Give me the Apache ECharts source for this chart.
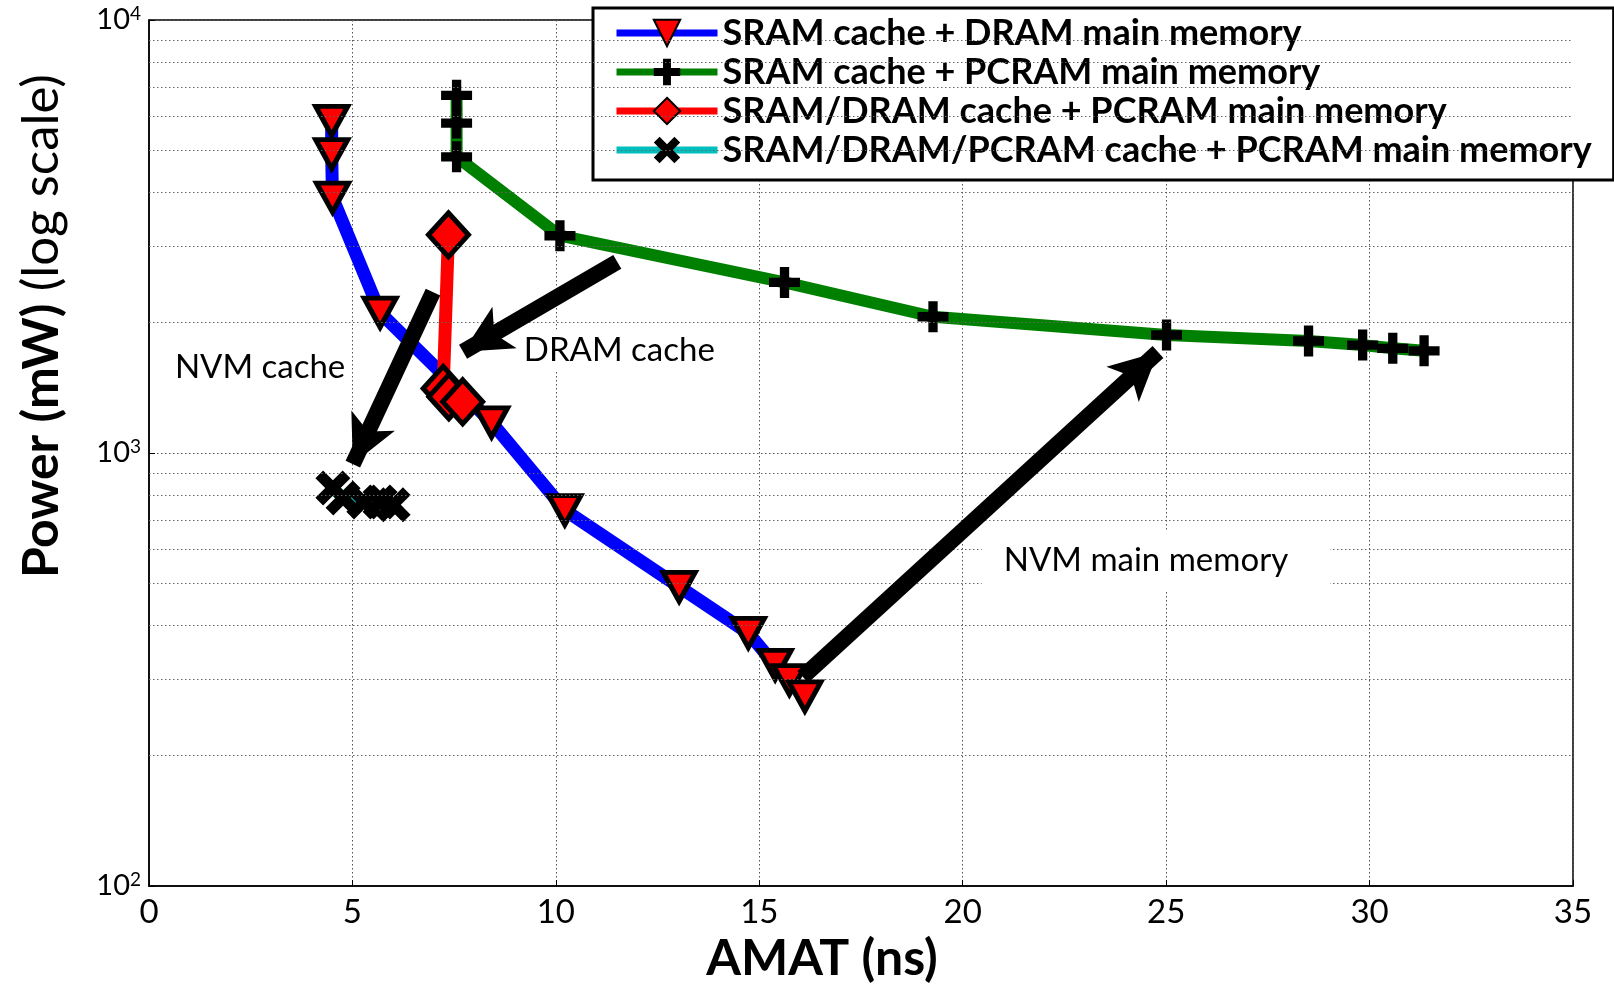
<!DOCTYPE html>
<html><head><meta charset="utf-8">
<script src="https://cdn.jsdelivr.net/npm/echarts@6/dist/echarts.min.js"></script>
<style>html,body{margin:0;padding:0;background:#fff}#c{width:1614px;height:1000px}</style>
</head><body><div id="c"></div>
<script>
// ---- data ----
const seriesNames = [
  'SRAM cache + DRAM main memory',
  'SRAM cache + PCRAM main memory',
  'SRAM/DRAM cache + PCRAM main memory',
  'SRAM/DRAM/PCRAM cache + PCRAM main memory'
];
const sramDramX = [4.49, 4.49, 4.51, 5.68, 8.42, 10.22, 13.03, 14.73, 15.39, 15.74, 16.12];
const sramDramY = [5850, 4900, 3890, 2110, 1177, 738, 491, 384, 324, 299, 274];
const sramPcramX = [7.56, 7.56, 7.56, 10.10, 15.62, 19.27, 25.01, 28.50, 29.83, 30.57, 31.34];
const sramPcramY = [6700, 5780, 4830, 3175, 2477, 2064, 1873, 1814, 1775, 1745, 1722];
const hybridX = [7.36, 7.23, 7.37, 7.71];
const hybridY = [3190, 1410, 1349, 1313];
const nvmCacheX = [4.52, 4.77, 5.28, 5.68, 6.0];
const nvmCacheY = [830, 787, 771, 771, 759];

const xTicks = [0, 5, 10, 15, 20, 25, 30, 35];
const yTickExponents = [2, 3, 4];
const yMinorGrid = [200, 300, 400, 500, 600, 700, 800, 900, 2000, 3000, 4000, 5000, 6000, 7000, 8000, 9000];

// annotations (data-space anchors)
const arrowFrom = [[6.98, 2353], [11.51, 2764], [16.07, 304]];
const arrowTo = [[5.01, 943], [7.72, 1713], [24.8, 1711]];
const noteTexts = ['NVM cache', 'DRAM cache', 'NVM main memory'];
const notePos = [[2.73, 1579], [11.56, 1729], [24.75, 564]];

// ---- chart ----
const zip = (xs, ys) => xs.map((x, i) => [x, ys[i]]);
const FONT = 'Lato';
const triDown = 'path://M0,0 L10,0 L5,9 Z';
const plus = 'path://M3.5,0 H6.5 V3.5 H10 V6.5 H6.5 V10 H3.5 V6.5 H0 V3.5 H3.5 Z';
const cross = 'path://M0,2.2 L2.2,0 L5,2.8 L7.8,0 L10,2.2 L7.2,5 L10,7.8 L7.8,10 L5,7.2 L2.2,10 L0,7.8 L2.8,5 Z';

const chart = echarts.init(document.getElementById('c'), null, {renderer: 'canvas'});

chart.setOption({
  animation: false,
  backgroundColor: '#fff',
  textStyle: {fontFamily: FONT},
  grid: {left: 149, top: 20, right: 41, bottom: 114, show: true, borderColor: '#000', borderWidth: 1.5, backgroundColor: 'transparent'},
  legend: {
    data: seriesNames,
    orient: 'vertical',
    left: 593, top: 8,
    padding: [7, 22, 12, 20],
    itemGap: 3,
    itemWidth: 101, itemHeight: 33,
    backgroundColor: '#fff',
    borderColor: '#000', borderWidth: 3,
    lineStyle: {width: 7},
    textStyle: {fontFamily: FONT, fontWeight: 'bold', fontSize: 36, color: '#000'},
    selectedMode: false
  },
  xAxis: {
    type: 'value', min: 0, max: 35, interval: 5,
    name: 'AMAT (ns)', nameLocation: 'middle', nameGap: 48,
    nameTextStyle: {fontFamily: FONT, fontWeight: 'bold', fontSize: 50, color: '#000', padding: [0, 78, 0, 0]},
    axisLine: {show: true, lineStyle: {color: '#000', width: 1.5}},
    axisTick: {show: true, inside: true, length: 6, lineStyle: {color: '#000'}},
    axisLabel: {fontFamily: FONT, fontSize: 33, color: '#000', margin: 10,
      formatter: v => xTicks.includes(v) ? String(v) : ''},
    splitLine: {show: true, lineStyle: {color: '#555', width: 1, type: [1.5, 2.5]}}
  },
  yAxis: {
    type: 'log', logBase: 10, min: 100, max: 10000,
    name: '{b|Power (mW)\u00a0}{r|(log scale)}', nameLocation: 'middle', nameGap: 82,
    nameTextStyle: {padding: [0, 0, 0, 254], rich: {
      b: {fontFamily: FONT, fontWeight: 'bold', fontSize: 50, color: '#000'},
      r: {fontFamily: FONT, fontWeight: 'normal', fontSize: 51, color: '#000'}
    }},
    axisLine: {show: true, lineStyle: {color: '#000', width: 1.5}},
    axisTick: {show: true, inside: true, length: 6, lineStyle: {color: '#000'}},
    axisLabel: {margin: 8, formatter: v => {
        const e = Math.round(Math.log10(v));
        return yTickExponents.includes(e) ? '{b|10}{s|' + e + '}' : '';
      },
      rich: {b: {fontFamily: FONT, fontSize: 29, color: '#000'},
             s: {fontFamily: FONT, fontSize: 19, color: '#000', verticalAlign: 'top', padding: [0, 0, 12, 0]}}},
    splitLine: {show: true, lineStyle: {color: '#555', width: 1, type: [1.5, 2.5]}}
  },
  series: [
    {
      name: 'minorGrid', type: 'line', data: [], z: 1, silent: true,
      markLine: {silent: true, symbol: ['none', 'none'], animation: false, label: {show: false},
        lineStyle: {color: '#666', width: 1, type: [1.5, 2.5]},
        data: yMinorGrid.map(v => ({yAxis: v}))}
    },
    {
      name: seriesNames[0], type: 'line', z: 2,
      data: zip(sramDramX, sramDramY),
      symbol: triDown, symbolSize: [32, 29],
      lineStyle: {color: '#0000ff', width: 13},
      itemStyle: {color: '#ff0000', borderColor: '#000', borderWidth: 5},
      emphasis: {disabled: true}
    },
    {
      name: 'arrows', type: 'line', data: [], z: 3, silent: true,
      markLine: {silent: true, animation: false, symbol: ['none', 'arrow'],
        label: {show: false},
        lineStyle: {color: '#000', width: 16, type: 'solid', opacity: 1},
        emphasis: {disabled: true},
        data: arrowFrom.map((f, i) => [{coord: f, symbol: 'none'}, {coord: arrowTo[i], symbol: 'arrow', symbolSize: [36, 48]}])},
      markPoint: {silent: true, animation: false, symbol: 'rect', symbolSize: 1,
        itemStyle: {color: 'rgba(0,0,0,0)'},
        label: {show: true, position: 'inside', fontFamily: FONT, fontSize: 33, color: '#000',
          backgroundColor: '#fff', padding: [6, 8]},
        data: noteTexts.map((t, i) => ({coord: notePos[i], value: t,
          label: {formatter: t, padding: i === 2 ? [14, 42, 14, 22] : [4, 6]}}))}
    },
    {
      name: seriesNames[1], type: 'line', z: 4,
      data: zip(sramPcramX, sramPcramY),
      symbol: plus, symbolSize: 31,
      lineStyle: {color: '#008000', width: 12},
      itemStyle: {color: '#000'},
      emphasis: {disabled: true}
    },
    {
      name: seriesNames[2], type: 'line', z: 4,
      data: zip(hybridX, hybridY),
      symbol: 'diamond', symbolSize: [40, 44],
      lineStyle: {color: '#ff0000', width: 13},
      itemStyle: {color: '#ff0000', borderColor: '#000', borderWidth: 5},
      emphasis: {disabled: true}
    },
    {
      name: seriesNames[3], type: 'line', z: 4,
      data: zip(nvmCacheX, nvmCacheY),
      symbol: cross, symbolSize: 35,
      lineStyle: {color: '#00bfbf', width: 12},
      itemStyle: {color: '#000'},
      emphasis: {disabled: true}
    }
  ]
});
</script>
</body></html>
